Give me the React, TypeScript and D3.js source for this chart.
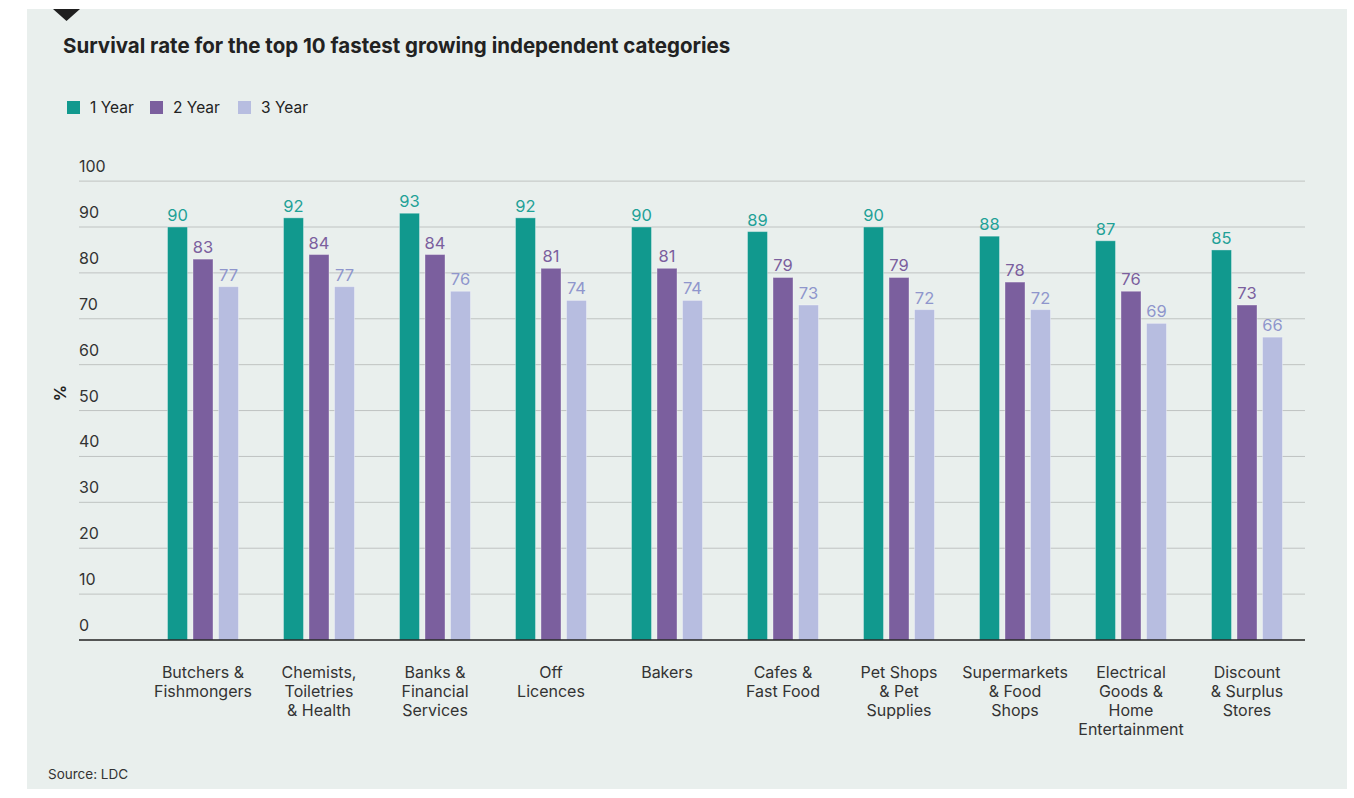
import React from "react";
import * as d3 from "d3";

const categories = [
  ["Butchers &", "Fishmongers"],
  ["Chemists,", "Toiletries", "& Health"],
  ["Banks &", "Financial", "Services"],
  ["Off", "Licences"],
  ["Bakers"],
  ["Cafes &", "Fast Food"],
  ["Pet Shops", "& Pet", "Supplies"],
  ["Supermarkets", "& Food", "Shops"],
  ["Electrical", "Goods &", "Home", "Entertainment"],
  ["Discount", "& Surplus", "Stores"],
];
const seriesNames = ["1 Year", "2 Year", "3 Year"];
const year1 = [90, 92, 93, 92, 90, 89, 90, 88, 87, 85];
const year2 = [83, 84, 84, 81, 81, 79, 79, 78, 76, 73];
const year3 = [77, 77, 76, 74, 74, 73, 72, 72, 69, 66];
const yTicks = [0, 10, 20, 30, 40, 50, 60, 70, 80, 90, 100];

const barColors = ["#11998e", "#7b5f9e", "#b7bde0"];
const labelColors = ["#1fa197", "#7b5f9e", "#8f96cc"];
const FONT = "Inter, 'Noto Sans', sans-serif";

export default function App() {
  const series = [year1, year2, year3];
  const keys = categories.map((c) => c.join(" "));
  const x = d3.scaleBand<string>().domain(keys).range([145, 1305]).padding(0);
  const y = d3.scaleLinear().domain([0, 90]).range([640, 227]);
  const inner = d3
    .scaleBand<string>()
    .domain(seriesNames)
    .range([-35.5, 35.5])
    .paddingInner(0.216)
    .paddingOuter(0);

  return (
    <svg
      width={1354}
      height={798}
      style={{ position: "absolute", left: 0, top: 0, fontFamily: FONT }}
    >
      <rect x={0} y={0} width={1354} height={798} fill="#ffffff" />
      <rect x={27} y={9} width={1320} height={780} fill="#e9efed" />
      <path d="M53,9 L80,9 L66.5,21 Z" fill="#1f1f1f" />
      <text x={63} y={53} fontSize={20.5} fontWeight={700} fill="#222">
        Survival rate for the top 10 fastest growing independent categories
      </text>

      {/* legend */}
      {seriesNames.map((s, i) => {
        const lx = [67, 150, 238][i];
        return (
          <g key={s}>
            <rect x={lx} y={101} width={13} height={13} fill={barColors[i]} />
            <text x={lx + 23} y={113} fontSize={15.5} fill="#222">
              {s}
            </text>
          </g>
        );
      })}

      {/* grid + y ticks */}
      {yTicks.map((t) => (
        <g key={t}>
          {t > 0 && (
            <line
              x1={79}
              x2={1305}
              y1={y(t)}
              y2={y(t)}
              stroke="#bfc3c2"
              strokeWidth={1}
            />
          )}
          <text x={79} y={y(t) - 9} fontSize={16} fill="#333">
            {t}
          </text>
        </g>
      ))}
      <text
        transform={`translate(66,393) rotate(-90)`}
        textAnchor="middle"
        fontSize={16}
        fontWeight={700}
        fill="#222"
      >
        %
      </text>

      {/* bars */}
      {keys.map((k, ci) => {
        const cx = (x(k) as number) + x.bandwidth() / 2;
        return (
          <g key={k}>
            {series.map((vals, si) => {
              const bx = cx + (inner(seriesNames[si]) as number);
              const bw = inner.bandwidth();
              const v = vals[ci];
              return (
                <g key={si}>
                  <rect
                    x={bx}
                    y={y(v)}
                    width={bw}
                    height={y(0) - y(v)}
                    fill={barColors[si]}
                    stroke="#ffffff"
                    strokeOpacity={0.35}
                    strokeWidth={1}
                  />
                  <text
                    x={bx + bw / 2}
                    y={y(v) - 6}
                    textAnchor="middle"
                    fontSize={16.5}
                    fill={labelColors[si]}
                  >
                    {v}
                  </text>
                </g>
              );
            })}
            {categories[ci].map((line, li) => (
              <text
                key={li}
                x={cx}
                y={678 + li * 19}
                textAnchor="middle"
                fontSize={16}
                fill="#333"
              >
                {line}
              </text>
            ))}
          </g>
        );
      })}

      <line x1={79} x2={1305} y1={y(0)} y2={y(0)} stroke="#222" strokeWidth={1.5} />

      <text x={48} y={779} fontSize={13.5} fill="#333">
        Source: LDC
      </text>
    </svg>
  );
}
